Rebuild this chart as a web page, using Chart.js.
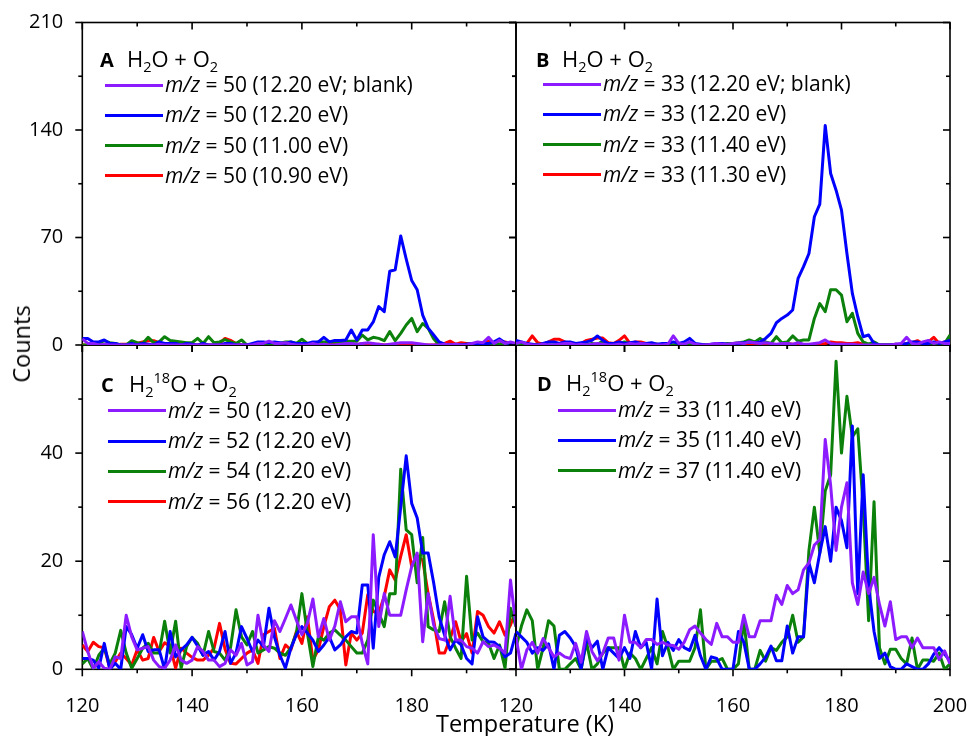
<!DOCTYPE html>
<html>
<head>
<meta charset="utf-8">
<script src="https://cdn.jsdelivr.net/npm/chart.js@4.4.1/dist/chart.umd.min.js"></script>
<style>
  html, body { margin: 0; background: #fff; }
  #fig { position: relative; width: 969px; height: 736px; font-family: "Open Sans", sans-serif; color: #000; overflow: hidden; }
  #fig canvas { position: absolute; left: 0; top: 0; }
  .txt { position: absolute; white-space: nowrap; }
  .head { font-size: 22px; line-height: 30px; }
  .head b { font-size: 20px; }
  .row { font-size: 21px; line-height: 30.3px; }
  .swatch { position: absolute; height: 3px; }
  sub { font-size: 0.66em; vertical-align: -0.35em; line-height: 0; }
  sup { font-size: 0.66em; vertical-align: 0.62em; line-height: 0; }
  .ytitle { font-size: 23.5px; transform: translate(-50%, -50%) rotate(-90deg); }
  .xtitle { font-size: 23.5px; transform: translate(-50%, -50%); }
</style>
</head>
<body>
<div id="fig"></div>
<script>
// Temperature axis (K), one point per kelvin
const temps = [120,121,122,123,124,125,126,127,128,129,130,131,132,133,134,135,136,137,138,139,
  140,141,142,143,144,145,146,147,148,149,150,151,152,153,154,155,156,157,158,159,
  160,161,162,163,164,165,166,167,168,169,170,171,172,173,174,175,176,177,178,179,
  180,181,182,183,184,185,186,187,188,189,190,191,192,193,194,195,196,197,198,199,200];

// Ticks
const xTicksLeft = [120, 140, 160, 180];
const xTicksRight = [120, 140, 160, 180, 200];
const xMinor = [130, 150, 170, 190];
const yTicksTop = [0, 70, 140, 210];
const yMinorTop = [35, 105, 175];
const yTicksBot = [0, 20, 40];
const yMinorBot = [10, 30, 50];

// A : H2O + O2, m/z = 50
const aPurple = [4,1,1,0,0.5,0,0,0,0,0, 0,0,0,0,0.5,0,0,0,0,0, 0,0,0,0,0,0,0,0,0,0,
  0,0,1,1,2.5,1,1,1.5,0.5,0, 0,0,1,0,0.5,0,0,0.5,1,1, 0.5,1,1.5,1,0.5,0,0.5,1,1.5,1.5,
  1.5,1,0.5,0,0,0,0.5,0,0.5,0, 0,1,2,1.5,5,1,3,1,2,1];
const aBlue = [4.3,4.3,2,2,3.3,1,1,0,0,1, 0,1,0.5,0,2,1,1,1,0,1, 0.5,0,1,0,0,0,1,1,0,0,
  0,1,2,2,1.5,2,1.5,1,2,1, 1,1,2,2,5,2,3,3,3.3,9.8, 3.3,9.8,9.8,15,25,21.7,48,49,71,56,
  42,36,19.5,11,6.5,2,0.5,0,0.5,0, 0.5,1,0.5,1,1,2,4,1.5,1,1];
const aGreen = [0,0,0,1,2.8,1.5,1,0,0,2.8, 1.5,1,5,1.5,2,5.4,3,2.5,2,1.5, 1.5,4.3,1,5.4,1.5,2,3.5,2,1,3.3,
  0,0,0.5,1,1,1,1,2,2,1, 3.7,1,1,2,2,2,2,2,2.5,2.5, 2.5,6.5,3.3,5,4.3,2.8,8.7,2.8,7.6,13,
  17.3,8.7,14,10.8,4,0,0,0,0,0, 0.5,0,0.5,1,0,1,0.5,0,0.5,0];
const aRed = [0,0,0,0,0,0,0,0.5,0.5,0.5, 1,2,2.8,2.8,1.5,0,0.5,0,0,0, 0,0,0,0,0,1,4.3,3,1,0,
  0,0,0,0.5,0,0,0,0,0.5,0, 0,0,0,0,0,1,1.5,0.5,0,0, 0,1,0,0,0.5,0,0,0,0.5,0,
  0,0,0,0,0,0.5,1,2.5,0.5,1.5, 1,0.5,1.5,1,2.5,1,0.5,2,1,0.5];

// B : H2O + O2, m/z = 33
const bPurple = [1,2,0.5,0,0,0.5,0,0,0.5,1, 1,0,0.5,0,0.5,1,0.5,0,0,0.5, 0,1,0.5,1,0.5,0,0,0,0.5,5.9,
  1,0.5,2,0.5,0,0,0.5,1,0.5,0.5, 1,1.5,1,2,1.5,1,1.5,1,0.5,1, 1,0.5,1.5,0.5,0.5,1,1.5,3.3,1,0.5,
  0.5,0.5,0.5,0,0,0,0,0,0,0, 0.5,1,5,1,0.5,2,3,1,2,1, 1];
const bBlue = [3,2,1,0.5,0,1,2,2,1,2, 2,1,1.5,2,3,5.9,3,1,1,2, 1,1.5,2,1,1,1.5,0.5,1,1,2,
  1,2,4.3,1,0.5,0,0.5,1,1,0.5, 0.5,1,1.5,2,1.5,2,4.3,7.6,14.5,17.3, 19.5,22.8,43.4,51,59.6,83.5,91.7,143,111.7,100.8,
  87.8,59.6,33.6,18.4,5.4,6.5,1,0,0,0, 0.5,0.5,1,2,2,1,1,2,1,2, 3];
const bGreen = [0,1,0,0,0.5,0,0,0,0.5,0, 0,0.5,0,0,1,0.5,2.5,0.5,0,0.5, 2,0.5,0,0.5,0,0,0.5,0,0,0,
  0,0,0.5,0,0,0,0,0,0.5,1, 1,1.5,2,3.3,2,4.3,2,1,5.4,1.5, 2,5.9,2.5,3.3,3.3,17.3,27,21.7,36,36,
  32.5,15.2,20.6,7.6,2,0.5,2,0,0,0, 0,0,0.5,0.5,0,1,0.5,0,1,1, 6.5];
const bRed = [2,0.5,1,5.9,1.5,0.5,2,3.7,3.7,2, 0.5,0.5,1,3,3.7,4.5,4.5,1.5,1,3, 5.9,1,2,2,1,0.5,0.5,0,0,0,
  0,0.5,0,0,0,0,0,0.5,0,0, 0,0,0.5,0,0,0,0.5,0,0,0, 1,0.5,0.5,0,0,0,0.5,1,2,1.5,
  1.5,1,1,1.5,0.5,0,0,0,0,0, 0.5,0,1,1.5,2.8,1,2,5,1,2, 0.5];

// C : H2(18)O + O2, m/z = 50..56
const cPurple = [7,3.3,0.2,1.4,0.2,0,2.3,2,10,6, 3.6,3.9,4.2,1.7,0.5,0.2,1.7,4.5,1.7,1.1, 1.7,4.2,3.3,1.7,1.7,0.5,1.1,3.6,2.6,4.8,
  0.8,1.4,10,4.5,3.3,9,7,9.4,11.9,9.1, 6.4,8.5,13,6,9.4,5.4,8,12.5,8.8,9.7, 9.7,4.8,1,24.9,7.9,14,10,10,10,14.7,
  19,21.5,5.1,14,8.2,5.7,5.4,13.5,5.4,5.4, 4.2,3.9,3,5.1,4.2,4.5,3.9,3,16.5,7.9];
const cBlue = [2,2,1.7,0.2,4.8,0,1.1,0,7.9,6.4, 3.9,6.4,3.3,3.6,3.6,0,7,2.3,3.6,4.5, 5.9,4.3,2.6,3.3,1.7,3.3,7,1.1,3,7.9,
  5.7,3.3,5.4,4.2,11.3,6,2.6,0.2,3.9,6.4, 7.9,6.7,5.4,3.3,4.5,6,3.6,4.5,6,7, 6.7,15.6,15.6,3.9,17,21.2,23.6,20.8,30,39.5,
  30.7,28,21.5,21.5,16,9.7,6.3,3.6,5.4,4.5, 2,1,9.7,6,5.1,5,4.2,2.3,3,6.7];
const cGreen = [1,2,0,2.6,3.9,1,3,7.2,3,0.2, 2,3.9,4.8,3,3,8.9,3,8.9,0.2,4.2, 5.9,4.8,2.6,7,3.3,3,1.7,4,11,6,
  4.5,7,3,3.6,4.2,3.9,3,2.6,4,6.7, 14,6.7,0.5,6,5.4,6.7,7.3,6.3,5.4,4.2, 3,3,5.4,12.8,10.4,7.9,14,14,37,25.8,
  24.9,16,24.4,7.9,7.3,7,12.5,6,3.9,2, 17.2,5.4,6.7,5.1,4.8,2,4.5,0.2,11.3,7.9];
const cRed = [4.5,3.3,5,4.2,4,0.2,1.4,3,2,0.8, 3.6,1.7,2,5.9,3.3,4.9,4.2,0.2,3.9,3, 2.2,1.7,1.7,2.6,3.9,8.5,3.7,1.1,1,2,
  3,3.6,1.1,6.4,7,7.6,2,4.5,3.6,7, 4.8,9.7,1.7,3.6,7.9,11.6,12.8,11,0.8,6.7, 5.4,6.7,13.8,10.7,10.4,13.5,18.4,16.5,20.9,24.9,
  19,21,20.2,14,9.1,3,3,5.7,8.8,5.1, 6.6,3,10.7,10,7.9,6.7,8.8,6.3,8.2,11];

// D : H2(18)O + O2, m/z = 33..37
const dPurple = [6,0,3.6,5,3,5.7,4,2.3,3,2.3, 2,4.8,1.3,7,3.3,1.6,3,5.8,5.8,1.7, 10,5,5,4,5.5,5.5,4.6,5,4.5,4.4,
  3.7,5,7.3,8,6.7,5.5,4.6,8.5,6,6, 5,5,10,6,6,9,9,9,13.7,12, 15.5,14,14.7,18.4,19.7,23,24,42.5,34,22,
  30,34.5,16,12,18,14,17,12,8,12.5, 5.5,6,6,4,5.8,4,4,4,1.8,3.4, 1];
const dBlue = [7,6,5,3,4,3.5,4.7,0,6.3,7, 5.8,4.2,0,5.8,4,5.2,0,4,3,2, 4,2,7,4,5,0,13,2.5,5,3.5,
  5.5,4,3.5,6.3,2.5,0,2.3,2,0,0, 0,7,5,0,0,1,2.2,4.3,1.6,1.6, 8,3,6,6,19.7,16,21.5,26.4,20,30,
  27.5,22.5,45,14,36,15.5,7,2,3,0.5, 0,0,1,0.5,0,0,1,2.8,4,2.8, 1.5];
const dGreen = [4,8,11,9,0,4,9,8,0,0, 1,2,0,5,0,1,3,4,4,4, 0,3,2,0,2,4,1,7,4,0,
  1.5,1.5,1.5,4,11,0,1.5,1.5,2,0, 0,1,9,0,0,3.5,1.5,4,3.5,5, 6,10,5,6,22,30,21.5,33,36,57,
  40,50.5,43,44.5,30,9,31,4,1,3.7, 3.7,2,1,5.8,0,1.7,1.7,1.5,3,0, 1];

// Legend text
const mzA = [50, 50, 50, 50], evA = ['12.20 eV; blank', '12.20 eV', '11.00 eV', '10.90 eV'];
const mzB = [33, 33, 33, 33], evB = ['12.20 eV; blank', '12.20 eV', '11.40 eV', '11.30 eV'];
const mzC = [50, 52, 54, 56], evC = ['12.20 eV', '12.20 eV', '12.20 eV', '12.20 eV'];
const mzD = [33, 35, 37], evD = ['11.40 eV', '11.40 eV', '11.40 eV'];

const PURPLE = '#8c1cff', BLUE = '#0000ff', GREEN = '#0b800b', RED = '#ff0000';
const W = 969, H = 736;
const FONT = '"Open Sans", sans-serif';
const fig = document.getElementById('fig');

// frame + major/minor ticks on all four sides (left/bottom out, top/right in)
const frameTicks = {
  id: 'frameTicks',
  beforeDatasetsDraw(chart, args, o) {
    const { ctx, chartArea: a, scales: { x, y } } = chart;
    ctx.save();
    ctx.strokeStyle = '#000';
    ctx.lineWidth = 1.6;
    ctx.strokeRect(a.left, a.top, a.right - a.left, a.bottom - a.top);
    const tick = (x1, y1, x2, y2) => { ctx.beginPath(); ctx.moveTo(x1, y1); ctx.lineTo(x2, y2); ctx.stroke(); };
    const xs = [...o.xMajor.map(v => [v, 7]), ...xMinor.map(v => [v, 4])];
    xs.forEach(([v, len]) => {
      if (v < x.min || v > x.max) return;
      const px = x.getPixelForValue(v);
      tick(px, a.bottom, px, a.bottom + len);
      tick(px, a.top, px, a.top + len);
    });
    const ys = [...o.yMajor.map(v => [v, 7]), ...o.yMinor.map(v => [v, 4])];
    ys.forEach(([v, len]) => {
      const py = y.getPixelForValue(v);
      tick(a.left, py, a.left - len, py);
      tick(a.right, py, a.right - len, py);
    });
    ctx.restore();
  }
};

const panels = [
  { key: 'C', rect: [82.3, 345, 516, 669.3], xMax: 199, xMajor: xTicksLeft, yMax: 60, yMajor: yTicksBot, yMinor: yMinorBot,
    xLabels: true, yLabels: true, series: [cPurple, cBlue, cGreen, cRed], colors: [PURPLE, BLUE, GREEN, RED], mz: mzC, ev: evC },
  { key: 'D', rect: [516, 345, 950, 669.3], xMax: 200, xMajor: xTicksRight, yMax: 60, yMajor: yTicksBot, yMinor: yMinorBot,
    xLabels: true, yLabels: false, series: [dPurple, dBlue, dGreen], colors: [PURPLE, BLUE, GREEN], mz: mzD, ev: evD },
  { key: 'A', rect: [82.3, 22.5, 516, 345], xMax: 199, xMajor: xTicksLeft, yMax: 210, yMajor: yTicksTop, yMinor: yMinorTop,
    xLabels: false, yLabels: true, series: [aPurple, aBlue, aGreen, aRed], colors: [PURPLE, BLUE, GREEN, RED], mz: mzA, ev: evA },
  { key: 'B', rect: [516, 22.5, 950, 345], xMax: 200, xMajor: xTicksRight, yMax: 210, yMajor: yTicksTop, yMinor: yMinorTop,
    xLabels: false, yLabels: false, series: [bPurple, bBlue, bGreen, bRed], colors: [PURPLE, BLUE, GREEN, RED], mz: mzB, ev: evB }
];

function makeChart(p) {
  const cv = document.createElement('canvas');
  cv.width = W; cv.height = H;
  fig.appendChild(cv);
  const [L, T, R, B] = p.rect;
  const yW = p.yLabels ? 60 : 0, xH = p.xLabels ? 50 : 0;
  new Chart(cv, {
    type: 'line',
    data: {
      datasets: p.series.map((vals, i) => ({
        label: `m/z = ${p.mz[i]} (${p.ev[i]})`,
        data: vals.map((v, k) => ({ x: temps[k], y: v })),
        borderColor: p.colors[i],
        borderWidth: 3,
        borderJoinStyle: 'round',
        pointRadius: 0,
        tension: 0,
        fill: false
      }))
    },
    options: {
      responsive: false,
      animation: false,
      events: [],
      layout: { padding: { left: L - yW, top: T, right: W - R, bottom: H - B - xH } },
      plugins: {
        legend: { display: false },
        tooltip: { enabled: false },
        frameTicks: { xMajor: p.xMajor, yMajor: p.yMajor, yMinor: p.yMinor }
      },
      scales: {
        x: {
          type: 'linear', min: 120, max: p.xMax,
          afterBuildTicks: s => { s.ticks = p.xMajor.map(v => ({ value: v })); },
          // fixed size, and no extra room for the end labels so the panels line up
          afterFit: s => { s.height = xH; s.paddingLeft = 0; s.paddingRight = 0; },
          grid: { display: false },
          border: { display: false },
          ticks: { display: p.xLabels, color: '#000', font: { family: FONT, size: 20 }, padding: 17, maxRotation: 0, autoSkip: false }
        },
        y: {
          type: 'linear', min: 0, max: p.yMax,
          afterBuildTicks: s => { s.ticks = p.yMajor.map(v => ({ value: v })); },
          afterFit: s => { s.width = yW; s.paddingTop = 0; s.paddingBottom = 0; },
          grid: { display: false },
          border: { display: false },
          ticks: { display: p.yLabels, color: '#000', font: { family: FONT, size: 20 }, padding: 11 }
        }
      }
    },
    plugins: [frameTicks]
  });
}

// legend boxes (HTML so that m/z can be italic and the formula can use sub/sup)
const legendPos = {
  A: { letterX: 100, formX: 127, headY: 57.5, lineX: 105, textX: 165, rowY: 85, formula: 'H<sub>2</sub>O + O<sub>2</sub>' },
  B: { letterX: 536, formX: 562, headY: 57.5, lineX: 543, textX: 603, rowY: 84, formula: 'H<sub>2</sub>O + O<sub>2</sub>' },
  C: { letterX: 101, formX: 129, headY: 383, lineX: 108, textX: 168, rowY: 410.7, formula: 'H<sub>2</sub><sup>18</sup>O + O<sub>2</sub>' },
  D: { letterX: 537, formX: 566, headY: 382, lineX: 558, textX: 618, rowY: 410, formula: 'H<sub>2</sub><sup>18</sup>O + O<sub>2</sub>' }
};

function addText(html, cls, left, top) {
  const d = document.createElement('div');
  d.className = 'txt ' + cls;
  d.innerHTML = html;
  d.style.left = left + 'px';
  d.style.top = top + 'px';
  fig.appendChild(d);
  return d;
}

function addLegend(p) {
  const g = legendPos[p.key];
  addText(`<b>${p.key}</b>`, 'head', g.letterX, g.headY - 15);
  addText(g.formula, 'head', g.formX, g.headY - 15);
  p.mz.forEach((mz, i) => {
    const cy = g.rowY + i * 30.3;
    const sw = document.createElement('div');
    sw.className = 'swatch';
    sw.style.left = g.lineX + 'px';
    sw.style.top = (cy - 1.5) + 'px';
    sw.style.width = '58px';
    sw.style.background = p.colors[i];
    fig.appendChild(sw);
    addText(`<i>m/z</i> = ${mz} (${p.ev[i]})`, 'row', g.textX, cy - 16);
  });
}

panels.forEach(makeChart);
panels.forEach(addLegend);

// shared axis titles
addText('Counts', 'ytitle', 21, 344);
addText('Temperature (K)', 'xtitle', 525, 723);
</script>
</body>
</html>
